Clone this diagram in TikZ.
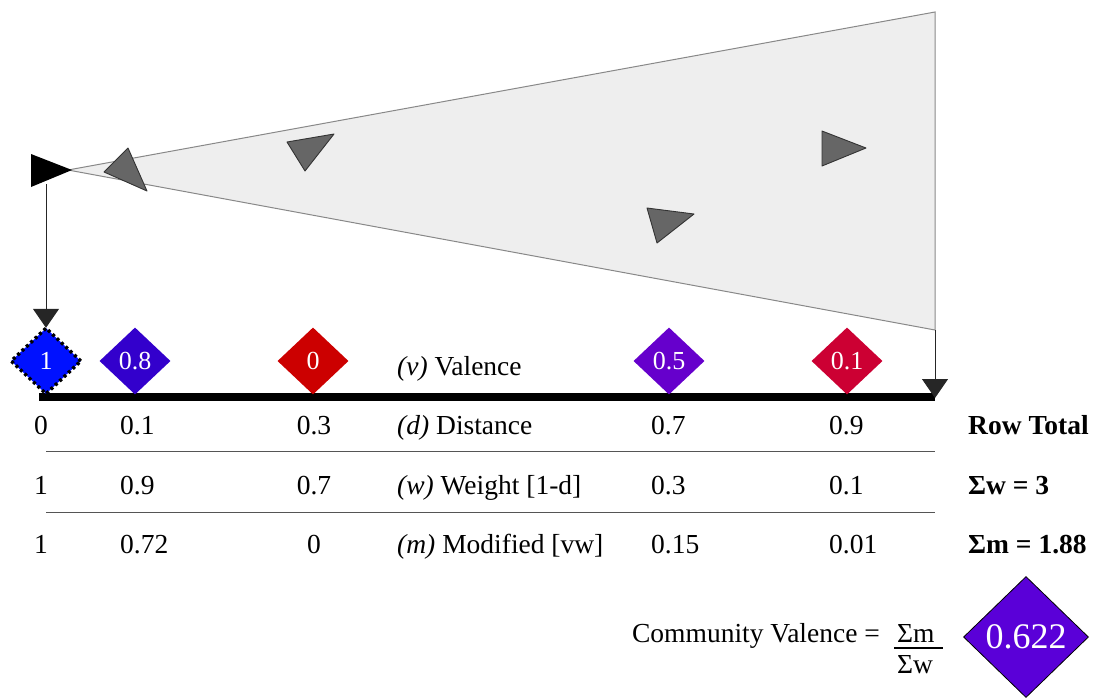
\documentclass[tikz,border=0pt]{standalone}
\usepackage{fontspec}
\setmainfont{Liberation Serif}
\usetikzlibrary{shapes.geometric,arrows.meta}
\definecolor{coneFill}{HTML}{EEEEEE}
\definecolor{coneLine}{HTML}{888888}
\definecolor{triFill}{HTML}{666666}
\definecolor{triLine}{HTML}{333333}
\definecolor{vOne}{HTML}{0011FF}
\definecolor{vEight}{HTML}{3300CC}
\definecolor{vZero}{HTML}{CC0000}
\definecolor{vFive}{HTML}{6600CC}
\definecolor{vTenth}{HTML}{CC0033}
\definecolor{vRes}{HTML}{5A00D8}
\definecolor{sepLine}{HTML}{555555}
\begin{document}
\begin{tikzpicture}[x=1pt,y=-1pt,
  val/.style={diamond, minimum width=71pt, minimum height=67pt, inner sep=0pt,
    text=white, font=\fontsize{26}{30}\selectfont},
  lbl/.style={font=\fontsize{27.5}{32}\selectfont, inner sep=0pt},
  tot/.style={lbl, font=\fontsize{27.5}{32}\selectfont\bfseries, anchor=base west},
  gtri/.style={fill=triFill, draw=triLine, line width=0.9pt, line join=round},
  conn/.style={draw=black!85, line width=1pt, -{Triangle[width=26pt,length=19pt]}},
  sep/.style={draw=sepLine, line width=1pt}
]
\useasboundingbox (0,0) rectangle (1099,697);

% cone of view
\coordinate (apex) at (68,170);
\coordinate (ctop) at (935,12);
\coordinate (cbot) at (935,330);
\filldraw[fill=coneFill, draw=coneLine, line width=1pt] (apex) -- (ctop) -- (cbot) -- cycle;

% gray agents
\filldraw[gtri] (104,172) -- (128,148) -- (147,191) -- cycle;
\filldraw[gtri] (287,142) -- (334,134) -- (305,171) -- cycle;
\filldraw[gtri] (822,131) -- (866,148) -- (822,166) -- cycle;
\filldraw[gtri] (647,208) -- (694,214) -- (657,243) -- cycle;

% observer
\fill[black] (31,154) -- (72,170) -- (31,187) -- cycle;
\coordinate (obs) at (46,184);

% axis
\coordinate (axL) at (39,397);
\coordinate (axR) at (935,397);
\draw[line width=8pt] (axL) -- (axR);

% valence diamonds
\node[val, fill=vOne, draw=black, line width=3.4pt, dash pattern=on 3pt off 3pt] (d1) at (46,361) {1};
\node[val, fill=vEight] (d2) at (135,361) {0.8};
\node[val, fill=vZero] (d3) at (313,361) {0};
\node[val, fill=vFive] (d4) at (669,361) {0.5};
\node[val, fill=vTenth] (d5) at (847,361) {0.1};

% connectors
\draw[conn] (obs) -- ([yshift=-2pt]d1.north);
\draw[conn] (cbot) -- ([yshift=-1pt]axR);

% row labels
\node[lbl, anchor=base west] (lv) at (397,375) {\textit{(v)} Valence};
\node[lbl, anchor=base west] (ld) at (397,434) {\textit{(d)} Distance};
\node[lbl, anchor=base west] (lw) at (397,494) {\textit{(w)} Weight [1-d]};
\node[lbl, anchor=base west] (lm) at (397,553) {\textit{(m)} Modified [vw]};

% separators
\coordinate (s1L) at (46,451); \coordinate (s1R) at (935,451);
\coordinate (s2L) at (46,512); \coordinate (s2R) at (935,512);
\draw[sep] (s1L) -- (s1R);
\draw[sep] (s2L) -- (s2R);

% column 1
\node[lbl, anchor=base] (a1) at (41,434) {0};
\node[lbl, anchor=base] (a2) at (41,494) {1};
\node[lbl, anchor=base] (a3) at (41,553) {1};
% column 2
\node[lbl, anchor=base west] (b1) at (120,434) {0.1};
\node[lbl, anchor=base west] (b2) at (120,494) {0.9};
\node[lbl, anchor=base west] (b3) at (120,553) {0.72};
% column 3
\node[lbl, anchor=base] (c1) at (314,434) {0.3};
\node[lbl, anchor=base] (c2) at (314,494) {0.7};
\node[lbl, anchor=base] (c3) at (314,553) {0};
% column 4
\node[lbl, anchor=base west] (e1) at (651,434) {0.7};
\node[lbl, anchor=base west] (e2) at (651,494) {0.3};
\node[lbl, anchor=base west] (e3) at (651,553) {0.15};
% column 5
\node[lbl, anchor=base west] (f1) at (829,434) {0.9};
\node[lbl, anchor=base west] (f2) at (829,494) {0.1};
\node[lbl, anchor=base west] (f3) at (829,553) {0.01};

% totals
\node[tot] (t0) at (968,434) {Row Total};
\node[tot] (t1) at (968,494) {Σw = 3};
\node[tot] (t2) at (968,553) {Σm = 1.88};

% community valence
\node[lbl, anchor=base east] (cv) at (880,642) {Community Valence =};
\node[lbl, anchor=base west] (num) at (897,642) {Σm};
\node[lbl, anchor=base west] (den) at (897,673) {Σw};
\coordinate (barL) at (894,648); \coordinate (barR) at (943,648);
\draw[line width=2pt] (barL) -- (barR);
\node[diamond, minimum width=125pt, minimum height=121pt, inner sep=0pt,
  fill=vRes, draw=black, line width=0.8pt, text=white,
  font=\fontsize{36}{40}\selectfont] (res) at (1026,637) {0.622};
\end{tikzpicture}
\end{document}
